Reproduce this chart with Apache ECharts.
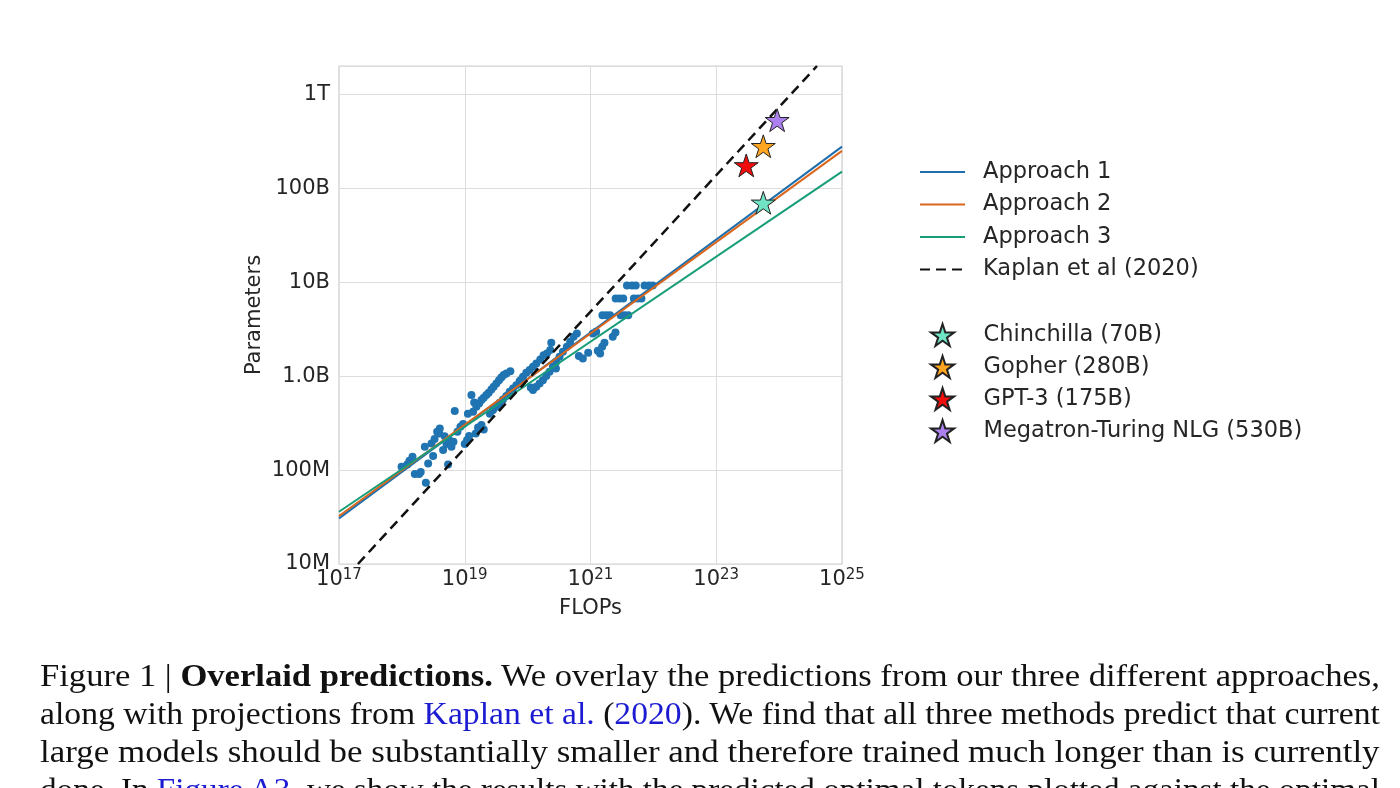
<!DOCTYPE html>
<html>
<head>
<meta charset="utf-8">
<script src="https://cdn.jsdelivr.net/npm/echarts@6/dist/echarts.min.js"></script>
<style>
    html, body { margin: 0; padding: 0; background: #fff; }
    #chart { position: absolute; left: 0; top: 0; width: 1400px; height: 788px; }
    .cap {
        position: absolute;
        left: 40px;
        white-space: nowrap;
        font-family: 'Liberation Serif', serif;
        font-size: 32px;
        line-height: 38px;
        color: #111;
        transform-origin: 0 0;
    }
    .cap b { font-weight: bold; }
    .cap .lnk { color: #1b1bd1; }
</style>
</head>
<body>
<div id="chart"></div>
<div class="cap" style="top:656px">Figure 1 | <b>Overlaid predictions.</b> We overlay the predictions from our three different approaches,</div>
<div class="cap" style="top:694px">along with projections from <span class="lnk">Kaplan et al.</span> (<span class="lnk">2020</span>). We find that all three methods predict that current</div>
<div class="cap" style="top:732px">large models should be substantially smaller and therefore trained much longer than is currently</div>
<div class="cap" style="top:770px">done. In <span class="lnk">Figure A3</span>, we show the results with the predicted optimal tokens plotted against the optimal</div>
<script>
// y tick labels by power of ten
var yTickLabels = { 7: '10M', 8: '100M', 9: '1.0B', 10: '10B', 11: '100B', 12: '1T' }

// fitted lines, evaluated at both ends of the FLOP range
var approachFlops = [1e17, 1e25]
var approach1Params = [3.06e7, 2.77e11]
var approach2Params = [3.24e7, 2.5e11]
var approach3Params = [3.6e7, 1.5e11]
var kaplanFlops = [2.0e17, 4.0e24]
var kaplanParams = [1e7, 2e12]

// existing models (stars)
var modelNames = ['Chinchilla (70B)', 'Gopher (280B)', 'GPT-3 (175B)', 'Megatron-Turing NLG (530B)']
var modelFlops = [5.6e23, 5.6e23, 3.0e23, 9.3e23]
var modelParams = [7e10, 2.8e11, 1.75e11, 5.3e11]
var modelColors = ['#6fe3c4', '#ffa51f', '#f20d0d', '#ad80ef']

// approach 1 points, read as log10(FLOPs) and log10(parameters)
var pointFlopsExp = [
    17.995, 18.085, 18.169, 18.206, 18.275, 18.365, 18.381, 18.418, 18.471, 18.497,
    18.561, 18.603, 18.593, 18.656, 18.709, 18.751, 18.788, 18.841, 18.884, 18.931,
    18.974, 18.735, 19.000, 19.037, 19.069, 19.106, 19.132, 19.185, 19.228, 19.265,
    19.302, 19.344, 19.381, 19.423, 19.460, 19.503, 19.545, 19.582, 19.619, 19.661,
    19.725, 19.212, 19.265, 19.302, 19.175, 19.450, 19.503, 19.556, 19.608, 19.661,
    19.714, 19.767, 19.820, 19.873, 19.926, 19.979, 20.032, 20.085, 20.138, 20.201,
    20.254, 20.307, 20.360, 20.376, 20.085, 20.138, 20.190, 20.243, 20.296, 20.349,
    20.402, 20.455, 20.508, 20.561, 20.624, 20.677, 20.730, 20.783, 20.815, 20.878,
    20.963, 21.037, 21.090, 21.116, 21.153, 21.185, 21.222, 21.354, 21.397,
    21.58, 21.66, 21.72, 21.86, 21.93, 21.99,
    21.40, 21.46, 21.52, 21.69, 21.75, 21.81,
    21.19, 21.25, 21.31, 21.48, 21.54, 21.60,
    18.12, 18.30, 18.52, 18.68, 18.82, 19.05, 19.15, 19.40, 19.55, 19.70, 19.90, 20.05, 20.45
]
var pointParamsExp = [
    8.035, 8.060, 8.142, 7.957, 7.957, 8.248, 7.865, 8.071, 8.284, 8.149,
    8.408, 8.443, 8.390, 8.213, 8.277, 8.319, 8.248, 8.628, 8.408, 8.461,
    8.489, 8.060, 8.277, 8.319, 8.362, 8.798, 8.621, 8.674, 8.709, 8.745,
    8.770, 8.798, 8.823, 8.858, 8.887, 8.922, 8.957, 8.986, 9.011, 9.028,
    9.053, 8.454, 8.479, 8.433, 8.390, 8.638, 8.674, 8.716, 8.752, 8.787,
    8.833, 8.869, 8.904, 8.947, 8.993, 9.035, 9.064, 9.099, 9.135, 9.177,
    9.223, 9.241, 9.277, 9.355, 8.851, 8.887, 8.922, 8.957, 9.000, 9.046,
    9.099, 9.152, 9.206, 9.259, 9.312, 9.365, 9.418, 9.454, 9.213, 9.188,
    9.248, 9.454, 9.472, 9.270, 9.241, 9.312, 9.355, 9.418, 9.465,
    9.965, 9.965, 9.965, 9.965, 9.965, 9.965,
    9.827, 9.827, 9.827, 9.827, 9.827, 9.827,
    9.649, 9.649, 9.649, 9.649, 9.649, 9.649,
    8.10, 7.98, 8.33, 8.36, 8.30, 8.60, 8.72, 8.60, 8.70, 8.80, 8.96, 8.88, 9.08
]

var starPath = 'path://M0,-50L11.23,-15.45L47.55,-15.45L18.16,5.9L29.39,40.45L0,19.1L-29.39,40.45L-18.16,5.9L-47.55,-15.45L-11.23,-15.45Z'
var labelFont = 'DejaVu Sans'
var textColor = '#262626'

function pairs(xs, ys) {
    return xs.map(function (x, i) { return [x, ys[i]] })
}

var points = pointFlopsExp.map(function (e, i) {
    return [Math.pow(10, e), Math.pow(10, pointParamsExp[i])]
})

var chart = echarts.init(document.getElementById('chart'))

var lineSeries = function (name, color, ys) {
    return {
        name: name,
        type: 'line',
        data: pairs(approachFlops, ys),
        symbol: 'none',
        color: color,
        lineStyle: { width: 2, color: color },
        z: 3,
        silent: true,
    }
}

var series = [
    {
        name: 'points',
        type: 'scatter',
        data: points,
        symbolSize: 8,
        itemStyle: { color: '#1f74b1', opacity: 1 },
        z: 2,
        silent: true,
    },
    lineSeries('Approach 1', '#1f6fad', approach1Params),
    lineSeries('Approach 2', '#d9661c', approach2Params),
    lineSeries('Approach 3', '#179e78', approach3Params),
    {
        name: 'Kaplan et al (2020)',
        type: 'line',
        data: pairs(kaplanFlops, kaplanParams),
        symbol: 'none',
        color: '#111',
        lineStyle: { width: 2.5, color: '#111', type: [10, 6] },
        z: 3,
        silent: true,
    },
]

modelNames.forEach(function (name, i) {
    series.push({
        name: name,
        type: 'scatter',
        data: [[modelFlops[i], modelParams[i]]],
        symbol: starPath,
        symbolKeepAspect: true,
        symbolSize: 24,
        itemStyle: { color: modelColors[i], borderColor: '#222', borderWidth: 1, opacity: 1 },
        z: 5,
        silent: true,
    })
})

var legendText = { fontFamily: labelFont, fontSize: 22.5, color: textColor, lineHeight: 24 }

var option = {
    backgroundColor: '#fff',
    animation: false,
    grid: {
        left: 339,
        top: 66,
        width: 503,
        height: 498,
        show: true,
        borderColor: '#cfcfcf',
        borderWidth: 1.2,
    },
    xAxis: {
        type: 'log',
        logBase: 10,
        min: 1e17,
        max: 1e25,
        interval: 2,
        name: 'FLOPs',
        nameLocation: 'middle',
        nameGap: 34,
        nameTextStyle: { fontFamily: labelFont, fontSize: 21, color: textColor },
        axisLine: { show: false },
        axisTick: { show: false },
        splitLine: { show: true, lineStyle: { color: '#dddddd', width: 1 } },
        axisLabel: {
            margin: 4,
            formatter: function (v) {
                return '10{sup|' + Math.round(Math.log10(v)) + '}'
            },
            fontFamily: labelFont,
            fontSize: 21,
            color: textColor,
            lineHeight: 24,
            rich: {
                sup: { fontFamily: labelFont, fontSize: 15, color: textColor, verticalAlign: 'top', lineHeight: 14 },
            },
        },
    },
    yAxis: {
        type: 'log',
        logBase: 10,
        min: 1e7,
        max: 2e12,
        interval: 1,
        name: 'Parameters',
        nameLocation: 'middle',
        nameGap: 74,
        nameRotate: 90,
        nameTextStyle: { fontFamily: labelFont, fontSize: 21, color: textColor },
        axisLine: { show: false },
        axisTick: { show: false },
        splitLine: { show: true, lineStyle: { color: '#dddddd', width: 1 } },
        axisLabel: {
            margin: 9,
            fontFamily: labelFont,
            fontSize: 21,
            color: textColor,
            showMaxLabel: false,
            formatter: function (v) {
                var e = Math.round(Math.log10(v))
                if (Math.abs(Math.log10(v) - e) > 0.01) return ''
                return yTickLabels[e] || ''
            },
        },
    },
    legend: [
        {
            orient: 'vertical',
            left: 914,
            top: 155,
            itemWidth: 45,
            itemHeight: 14,
            itemGap: 8.5,
            data: ['Approach 1', 'Approach 2', 'Approach 3', 'Kaplan et al (2020)'],
            itemStyle: { opacity: 0 },
            textStyle: Object.assign({ padding: [0, 0, 0, 13] }, legendText),
            selectedMode: false,
        },
        {
            orient: 'vertical',
            left: 925,
            top: 318,
            itemWidth: 24,
            itemHeight: 22,
            itemGap: 8,
            data: modelNames,
            textStyle: Object.assign({ padding: [0, 0, 0, 24] }, legendText),
            selectedMode: false,
        },
    ],
    series: series,
}

chart.setOption(option)

// squeeze each caption line to the justified width of the page text
document.querySelectorAll('.cap').forEach(function (el) {
    var w = el.offsetWidth
    el.style.transform = 'scaleX(' + (1340 / w) + ')'
})
</script>
</body>
</html>
